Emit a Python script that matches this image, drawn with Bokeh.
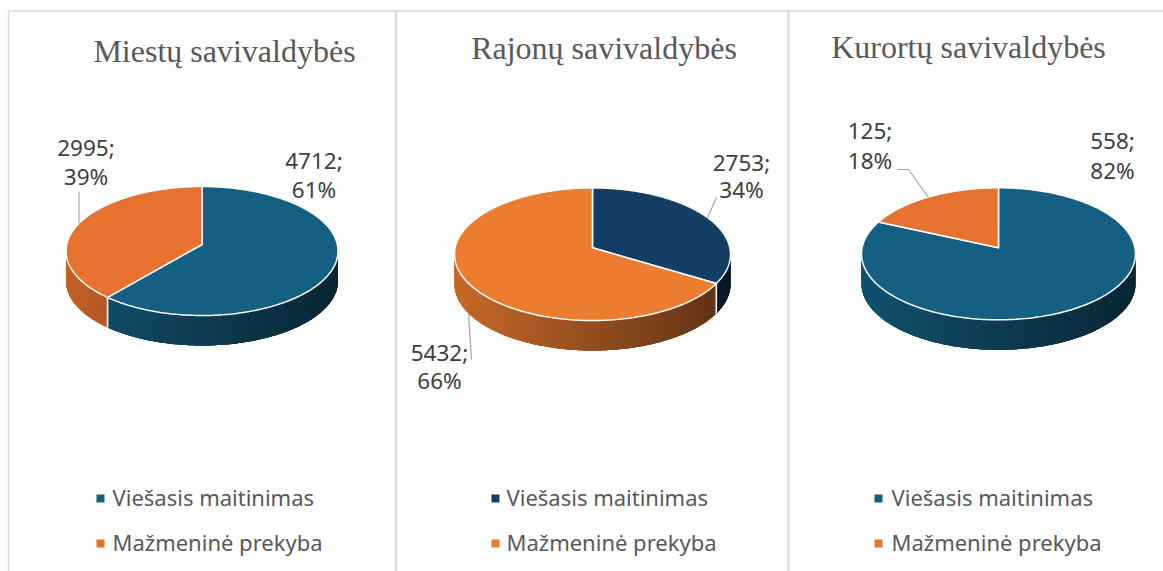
import numpy as np
from bokeh.plotting import figure
from bokeh.embed import file_html
from bokeh.resources import INLINE
from bokeh.core.properties import value

# --- data ---
panel_titles = ["Miestų savivaldybės", "Rajonų savivaldybės", "Kurortų savivaldybės"]
series_names = ["Viešasis maitinimas", "Mažmeninė prekyba"]
miestu_values = [4712, 2995]
rajonu_values = [2753, 5432]
kurortu_values = [558, 125]

# --- layout and style ---
W, H = 1163, 571
SANS = "Noto Sans"
SERIF = "Liberation Serif"
panels = [
    dict(values=miestu_values, colors=["#156082", "#e77230"], cx=201.5, cy=250.5, apex=244.0, a=136, b=64.5,
         title=(224, 50), label_xy=[(313.5, 160, 189), (85.5, 147, 176)],
         leaders=[[(78.5, 191), (78.5, 223)]], leg_x=100, leg_tx=112),
    dict(values=rajonu_values, colors=["#153e64", "#eb7c30"], cx=592, cy=253.7, apex=247.3, a=138, b=66.3,
         title=(603.5, 47), label_xy=[(741, 162, 189), (439, 352, 380)],
         leaders=[[(716, 197), (707, 217)], [(468, 312), (471, 359)]], leg_x=495, leg_tx=506),
    dict(values=kurortu_values, colors=["#156082", "#e77230"], cx=998, cy=253.3, apex=247.3, a=137, b=66,
         title=(968, 46), label_xy=[(1112, 140, 170), (869.5, 130, 160)],
         leaders=[[(897, 169), (908, 169), (928, 197)]], leg_x=878, leg_tx=891),
]
DEPTH = 30
BORDER = "#d9d9d9"

p = figure(width=W, height=H, x_range=(0, W), y_range=(H, 0), output_backend="svg",
           toolbar_location=None, min_border=0, outline_line_color=None, background_fill_color="white")
p.xaxis.visible = False
p.yaxis.visible = False
p.grid.visible = False

# panel frame
p.line([8, 8], [10.5, 571], line_color=BORDER, line_width=1.5)
p.line([8, 1163], [10.5, 10.5], line_color=BORDER, line_width=1.5)
p.line([395.5, 395.5], [10.5, 571], line_color=BORDER, line_width=2.2)
p.line([788, 788], [10.5, 571], line_color=BORDER, line_width=2.2)


def hex_rgb(h):
    return np.array([int(h[i:i + 2], 16) for i in (1, 3, 5)], dtype=float)


def rgb_hex(c):
    return "#%02x%02x%02x" % tuple(int(round(v)) for v in c)


for idx, cfg in enumerate(panels):
    vals = np.array(cfg["values"], dtype=float)
    cx, cy, a, b = cfg["cx"], cfg["cy"], cfg["a"], cfg["b"]
    k = (cy - cfg["apex"]) / b
    s = np.sqrt(1 - k * k)

    def project(th):
        # clockwise from 12 o'clock, disc seen in perspective
        u, v = np.sin(th), np.cos(th)
        w = 1 + k * v
        return cx + a * s * u / w, cy - b * (v + k) / w

    fracs = vals / vals.sum()
    edges = np.concatenate([[0], np.cumsum(fracs)]) * 2 * np.pi

    # side wall strips with a left-to-right shading; each overlaps the next to avoid seams
    seams = []
    for i, color in enumerate(cfg["colors"]):
        base = hex_rgb(color)
        th = np.linspace(edges[i], edges[i + 1], 240)
        x, y = project(th)
        xs, ys, cols = [], [], []
        for j in range(len(th) - 1):
            if y[j] < cy and y[j + 1] < cy:
                continue
            e = min(j + 4, len(th) - 1)
            seg_x = x[j:e + 1]
            seg_y = y[j:e + 1]
            t = (x[j] - (cx - a)) / (2 * a)
            f = 0.85 - 0.45 * t
            xs.append(np.r_[seg_x, seg_x[::-1]])
            ys.append(np.r_[seg_y, seg_y[::-1] + DEPTH])
            cols.append(rgb_hex(base * f))
        if xs:
            p.patches(xs, ys, fill_color=cols, line_color=None)
        if y[-1] > cy and edges[i + 1] < 2 * np.pi - 1e-6:
            seams.append((x[-1], y[-1]))
    for sx, sy in seams:
        p.line([sx, sx], [sy, sy + DEPTH], line_color="white", line_width=1.6)

    # top face
    apex_x, apex_y = cx, cfg["apex"]
    for i, color in enumerate(cfg["colors"]):
        th = np.linspace(edges[i], edges[i + 1], 240)
        x, y = project(th)
        p.patch(np.r_[apex_x, x], np.r_[apex_y, y], fill_color=color, line_color="white", line_width=1.5)

    # leaders
    for seg in cfg["leaders"]:
        p.line([q[0] for q in seg], [q[1] for q in seg], line_color="#a6a6a6", line_width=1.2)

    # data labels
    for v, fr, (lx, y1, y2) in zip(cfg["values"], fracs, cfg["label_xy"]):
        p.text([lx, lx], [y1, y2], text=[f"{v};", f"{round(fr * 100)}%"], text_font=value(SANS),
               text_font_size="22.5px", text_color="#404040", text_align="center", text_baseline="alphabetic")

    # title
    p.text([cfg["title"][0]], [cfg["title"][1]], text=[panel_titles[idx]], text_font=value(SERIF),
           text_font_size="32px", text_color="#595959", text_align="center", text_baseline="alphabetic")

    # legend
    for name, color, sy, ty in zip(series_names, cfg["colors"], [498, 543], [496, 541]):
        p.scatter([cfg["leg_x"]], [sy], marker="square", size=8, fill_color=color, line_color=None)
        p.text([cfg["leg_tx"]], [ty], text=[name], text_font=value(SANS), text_font_size="22px",
               text_color="#595959", text_align="left", text_baseline="alphabetic")

open("out.html", "w").write(file_html(p, INLINE))
